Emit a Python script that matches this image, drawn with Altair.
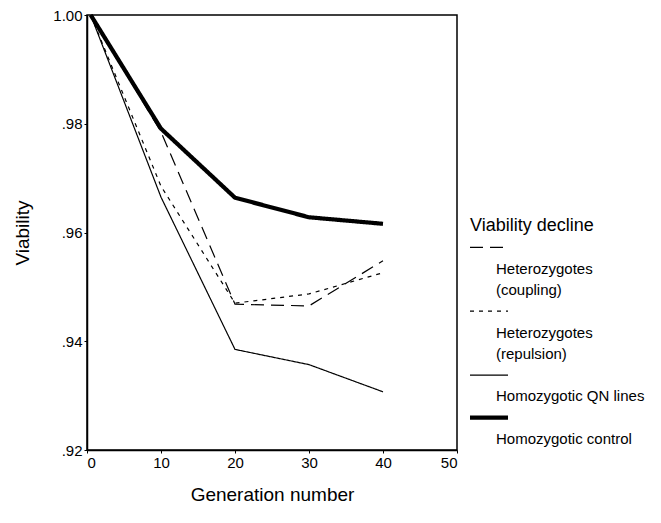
import altair as alt
import pandas as pd

generations = [0.5, 10, 20, 30, 40]
series_names = ["Heterozygotes (coupling)", "Heterozygotes (repulsion)",
                "Homozygotic QN lines", "Homozygotic control"]
coupling = [1.0, 0.9785, 0.9468, 0.9465, 0.9548]
repulsion = [1.0, 0.9685, 0.9470, 0.9487, 0.9526]
qn_lines = [1.0, 0.9665, 0.9385, 0.9357, 0.9307]
control = [1.0, 0.9791, 0.9664, 0.9628, 0.9616]
legend_title = "Viability decline"
legend_lines = [["Heterozygotes", "(coupling)"], ["Heterozygotes", "(repulsion)"],
                ["Homozygotic QN lines"], ["Homozygotic control"]]
x_ticks = [0, 10, 20, 30, 40, 50]
y_ticks = [0.92, 0.94, 0.96, 0.98, 1.00]

rows = []
for name, vals in zip(series_names, [coupling, repulsion, qn_lines, control]):
    for g, v in zip(generations, vals):
        rows.append({"series": name, "gen": g, "viability": v})
df = pd.DataFrame(rows)

FONT = "Liberation Sans"
dash_scale = alt.Scale(domain=series_names, range=[[13, 7], [4, 5], [1, 0], [1, 0]])
thick = alt.datum.series == "Homozygotic control"
width_enc = alt.condition(thick, alt.value(4.2), alt.value(1.2))

axis_common = dict(grid=False, tickSize=3, labelFont=FONT, titleFont=FONT,
                   titleFontWeight="normal", domainColor="black", tickColor="black",
                   labelColor="black", titleColor="black", domainWidth=1.5)

main = alt.Chart(df).mark_line(color="black").encode(
    x=alt.X("gen:Q", title="Generation number",
            scale=alt.Scale(domain=[0, 50], nice=False),
            axis=alt.Axis(values=x_ticks, labelFontSize=15, titleFontSize=19,
                          titlePadding=15, labelPadding=2, **axis_common)),
    y=alt.Y("viability:Q", title="Viability",
            scale=alt.Scale(domain=[0.92, 1.0], nice=False, zero=False),
            axis=alt.Axis(values=y_ticks, labelFontSize=15, titleFontSize=19,
                          titlePadding=20, labelPadding=2,
                          labelExpr="datum.value >= 0.999 ? '1.00' : replace(format(datum.value, '.2f'), '0.', '.')",
                          **axis_common)),
    detail="series:N",
    strokeDash=alt.StrokeDash("series:N", scale=dash_scale, legend=None),
    strokeWidth=width_enc,
).properties(width=370, height=435, view=alt.ViewBackground(stroke="black", strokeWidth=1.5))

# manual legend: symbol above its label lines
sym_rows, txt_rows = [], []
slot = 1
for name, lines in zip(series_names, legend_lines):
    sym_rows.append({"series": name, "slot": slot})
    slot += 1
    for ln in lines:
        txt_rows.append({"text": ln, "slot": slot})
        slot += 1
n_slots = slot
title_df = pd.DataFrame([{"text": legend_title, "slot": 0}])

yscale = alt.Scale(domain=[0, n_slots - 1], range=[211, 424], nice=False, zero=False)

leg_sym = alt.Chart(pd.DataFrame(sym_rows)).mark_rule(color="black").encode(
    x=alt.value(13), x2=alt.value(51),
    y=alt.Y("slot:Q", scale=yscale, axis=None),
    strokeDash=alt.StrokeDash("series:N", scale=dash_scale, legend=None),
    strokeWidth=width_enc,
)
leg_txt = alt.Chart(pd.DataFrame(txt_rows)).mark_text(
    align="left", baseline="middle", fontSize=15, font=FONT, color="black"
).encode(x=alt.value(39), y=alt.Y("slot:Q", scale=yscale, axis=None), text="text:N")
leg_title = alt.Chart(title_df).mark_text(
    align="left", baseline="middle", fontSize=18, font=FONT, color="black"
).encode(x=alt.value(13), y=alt.Y("slot:Q", scale=yscale, axis=None), text="text:N")

legend = alt.layer(leg_sym, leg_txt, leg_title).properties(
    width=190, height=435, view=alt.ViewBackground(stroke=None))

chart = alt.hconcat(main, legend, spacing=0, bounds="flush").resolve_scale(
    x="independent", y="independent", strokeDash="shared"
).properties(padding={"top": -3, "left": 5, "right": 0, "bottom": 0}).configure(
    font=FONT, background="white")

chart.save("out.html", embed_options={"renderer": "svg", "actions": False})
